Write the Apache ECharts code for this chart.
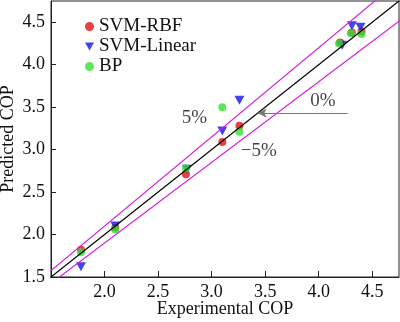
<!DOCTYPE html>
<html><head><meta charset="utf-8">
<script src="https://cdn.jsdelivr.net/npm/echarts@6/dist/echarts.min.js"></script>
<style>html,body{margin:0;padding:0;background:#fff}#c{width:400px;height:322px}</style>
</head><body><div id="c"></div>
<script>
var xTicks = [2.0, 2.5, 3.0, 3.5, 4.0, 4.5];
var yTicks = [1.5, 2.0, 2.5, 3.0, 3.5, 4.0, 4.5];
var rbfX = [1.78, 2.10, 2.76, 3.10, 3.26, 4.20, 4.31, 4.40];
var rbfY = [1.82, 2.08, 2.71, 3.09, 3.28, 4.26, 4.38, 4.39];
var linX = [1.78, 2.10, 2.77, 3.10, 3.26, 4.22, 4.31, 4.39];
var linY = [1.62, 2.10, 2.77, 3.22, 3.58, 4.23, 4.46, 4.44];
var bpX  = [1.78, 2.10, 2.76, 3.10, 3.26, 4.19, 4.30, 4.40];
var bpY  = [1.79, 2.06, 2.78, 3.50, 3.21, 4.25, 4.37, 4.36];
var refX = [1.4, 4.9];
var refFactors = [1.0, 1.05, 0.95];
var annText = ['5%', '0%', '\u22125%'];
var annPos = [[2.84, 3.37], [4.04, 3.57], [3.44, 2.98]];
var arrowFrom = [4.27, 3.43], arrowTo = [3.43, 3.43];

function zip(a, b) { return a.map(function (v, i) { return [v, b[i]]; }); }
function refLine(k) { return refX.map(function (x) { return [x, k * x]; }); }
function near(list, v) { return list.some(function (t) { return Math.abs(t - v) < 1e-6; }); }
var font = '"Liberation Serif", "Times New Roman", serif';
var tri = 'path://M0,0 L10,0 L5,9 Z';

var chart = echarts.init(document.getElementById('c'));
chart.setOption({
  animation: false,
  grid: { left: 51, right: 1, top: 1, bottom: 45, show: true, borderColor: '#222', borderWidth: 1,
    containLabel: false, outerBoundsMode: 'none' },
  xAxis: {
    type: 'value', min: 1.5, max: 4.75, interval: 0.5,
    name: 'Experimental COP', nameLocation: 'middle', nameGap: 23, nameMoveOverlap: false,
    nameTextStyle: { fontFamily: font, fontSize: 18, color: '#111' },
    axisLine: { show: true, lineStyle: { color: '#222' } },
    axisTick: { show: true, inside: true, length: 6, lineStyle: { color: '#222' } },
    axisLabel: { fontFamily: font, fontSize: 18, color: '#111', margin: 6, showMaxLabel: false,
      formatter: function (v) { return near(xTicks, v) ? v.toFixed(1) : ''; } },
    splitLine: { show: false }
  },
  yAxis: {
    type: 'value', min: 1.5, max: 4.75, interval: 0.5,
    name: 'Predicted COP', nameLocation: 'middle', nameGap: 34, nameMoveOverlap: false,
    nameTextStyle: { fontFamily: font, fontSize: 18, color: '#111' },
    axisLine: { show: true, lineStyle: { color: '#222' } },
    axisTick: { show: true, inside: true, length: 5, lineStyle: { color: '#222' } },
    axisLabel: { fontFamily: font, fontSize: 18, color: '#111', margin: 6, showMaxLabel: false,
      formatter: function (v) { return near(yTicks, v) ? v.toFixed(1) : ''; } },
    splitLine: { show: false }
  },
  legend: {
    orient: 'vertical', left: 80, top: 12, itemGap: 1, itemWidth: 9, itemHeight: 9,
    textStyle: { fontFamily: font, fontSize: 19, color: '#111' },
    data: [
      { name: 'SVM-RBF', icon: 'circle' },
      { name: 'SVM-Linear', icon: tri },
      { name: 'BP', icon: 'circle' }
    ]
  },
  series: [
    { type: 'line', data: refLine(refFactors[1]), symbol: 'none', clip: true, silent: true,
      lineStyle: { color: '#d81ee0', width: 1.2 } },
    { type: 'line', data: refLine(refFactors[2]), symbol: 'none', clip: true, silent: true,
      lineStyle: { color: '#d81ee0', width: 1.2 } },
    { type: 'line', data: refLine(refFactors[0]), symbol: 'none', clip: true, silent: true,
      lineStyle: { color: '#000', width: 1.2 },
      markLine: { silent: true, symbol: ['none', 'arrow'], symbolSize: [7, 9],
        lineStyle: { color: '#777', width: 1.2, type: 'solid' }, label: { show: false },
        data: [[{ coord: arrowFrom }, { coord: arrowTo }]] } },
    { name: 'SVM-RBF', type: 'scatter', data: zip(rbfX, rbfY), symbol: 'circle', symbolSize: 8,
      itemStyle: { color: '#e31010' } },
    { name: 'SVM-Linear', type: 'scatter', data: zip(linX, linY), symbol: tri, symbolSize: [10, 9],
      itemStyle: { color: '#1414e6' } },
    { name: 'BP', type: 'scatter', data: zip(bpX, bpY), symbol: 'circle', symbolSize: 8,
      itemStyle: { color: '#33e033' } },
    { type: 'scatter', data: annPos.map(function (p, i) { return { value: p, name: annText[i] }; }),
      symbolSize: 0, silent: true,
      label: { show: true, position: 'inside', formatter: '{b}', fontFamily: font, fontSize: 19, color: '#111' } }
  ]
});
</script></body></html>
